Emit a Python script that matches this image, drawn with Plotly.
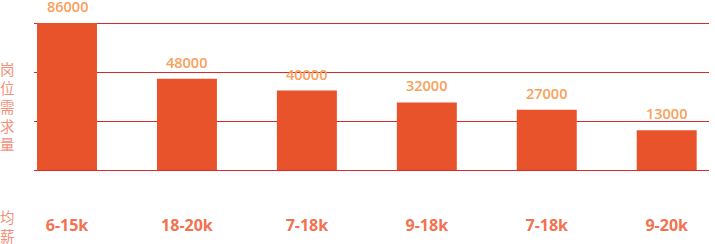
import plotly.graph_objects as go

# Data
salaries = ["6-15k", "18-20k", "7-18k", "9-18k", "7-18k", "9-20k"]
demand = [86000, 48000, 40000, 32000, 27000, 13000]
axis_floor = -14000  # chart baseline value
axis_top = 86000
grid_count = 3

positions = list(range(len(demand)))
grid_vals = [axis_floor + k * (axis_top - axis_floor) / grid_count for k in range(grid_count + 1)]

W, H = 715, 244
bar_color = "#E9532B"
label_color = "#F9A05B"
salary_color = "#F3714F"
cjk_color = "#F4907A"
grid_color = "#D62A2B"

fig = go.Figure()
fig.add_trace(go.Bar(
    x=positions,
    y=[v - axis_floor for v in demand],
    base=axis_floor,
    width=0.5,
    marker=dict(color=bar_color, line=dict(width=0)),
    hoverinfo="skip",
))

annotations = []
for xi, v in zip(positions, demand):
    annotations.append(dict(
        x=xi, y=v, xref="x", yref="y", text=str(v), showarrow=False,
        yanchor="middle", yshift=16.5,
        font=dict(family="Open Sans", size=14.5, color=label_color, weight=600),
    ))

annotations.append(dict(
    x=7.5 / W, y=1 - 106 / H, xref="paper", yref="paper",
    text="岗<br>位<br>需<br>求<br>量", showarrow=False,
    xanchor="center", yanchor="middle",
    font=dict(family="Noto Sans CJK SC", size=14.5, color=cjk_color),
))
annotations.append(dict(
    x=7.5 / W, y=1 - 226 / H, xref="paper", yref="paper",
    text="均<br>薪", showarrow=False,
    xanchor="center", yanchor="middle",
    font=dict(family="Noto Sans CJK SC", size=14.5, color=cjk_color),
))

x_left, x_right = 34, 709
y_top, y_bot = 23, 170
spacing = 119.94
c0 = 67
pad_px = 2  # extend plot area so edge gridlines are kept
units_per_px = (axis_top - axis_floor) / (y_bot - y_top)

fig.update_layout(
    width=W, height=H,
    margin=dict(l=0, r=0, t=0, b=0),
    paper_bgcolor="white", plot_bgcolor="white",
    showlegend=False,
    annotations=annotations,
    xaxis=dict(
        domain=[x_left / W, x_right / W],
        range=[(x_left - c0) / spacing, (x_right - c0) / spacing],
        tickmode="array", tickvals=positions, ticktext=salaries,
        showgrid=False, zeroline=False, showline=False, ticks="",
        ticklabelstandoff=44 - pad_px,
        tickfont=dict(family="Open Sans", size=16, color=salary_color, weight="bold"),
    ),
    yaxis=dict(
        domain=[1 - (y_bot + pad_px) / H, 1 - (y_top - pad_px) / H],
        range=[axis_floor - pad_px * units_per_px, axis_top + pad_px * units_per_px],
        tickmode="array", tickvals=grid_vals,
        showgrid=True, gridcolor=grid_color, gridwidth=1,
        zeroline=False, showline=False,
        showticklabels=False, ticks="",
    ),
)

fig.write_html("out.html")
